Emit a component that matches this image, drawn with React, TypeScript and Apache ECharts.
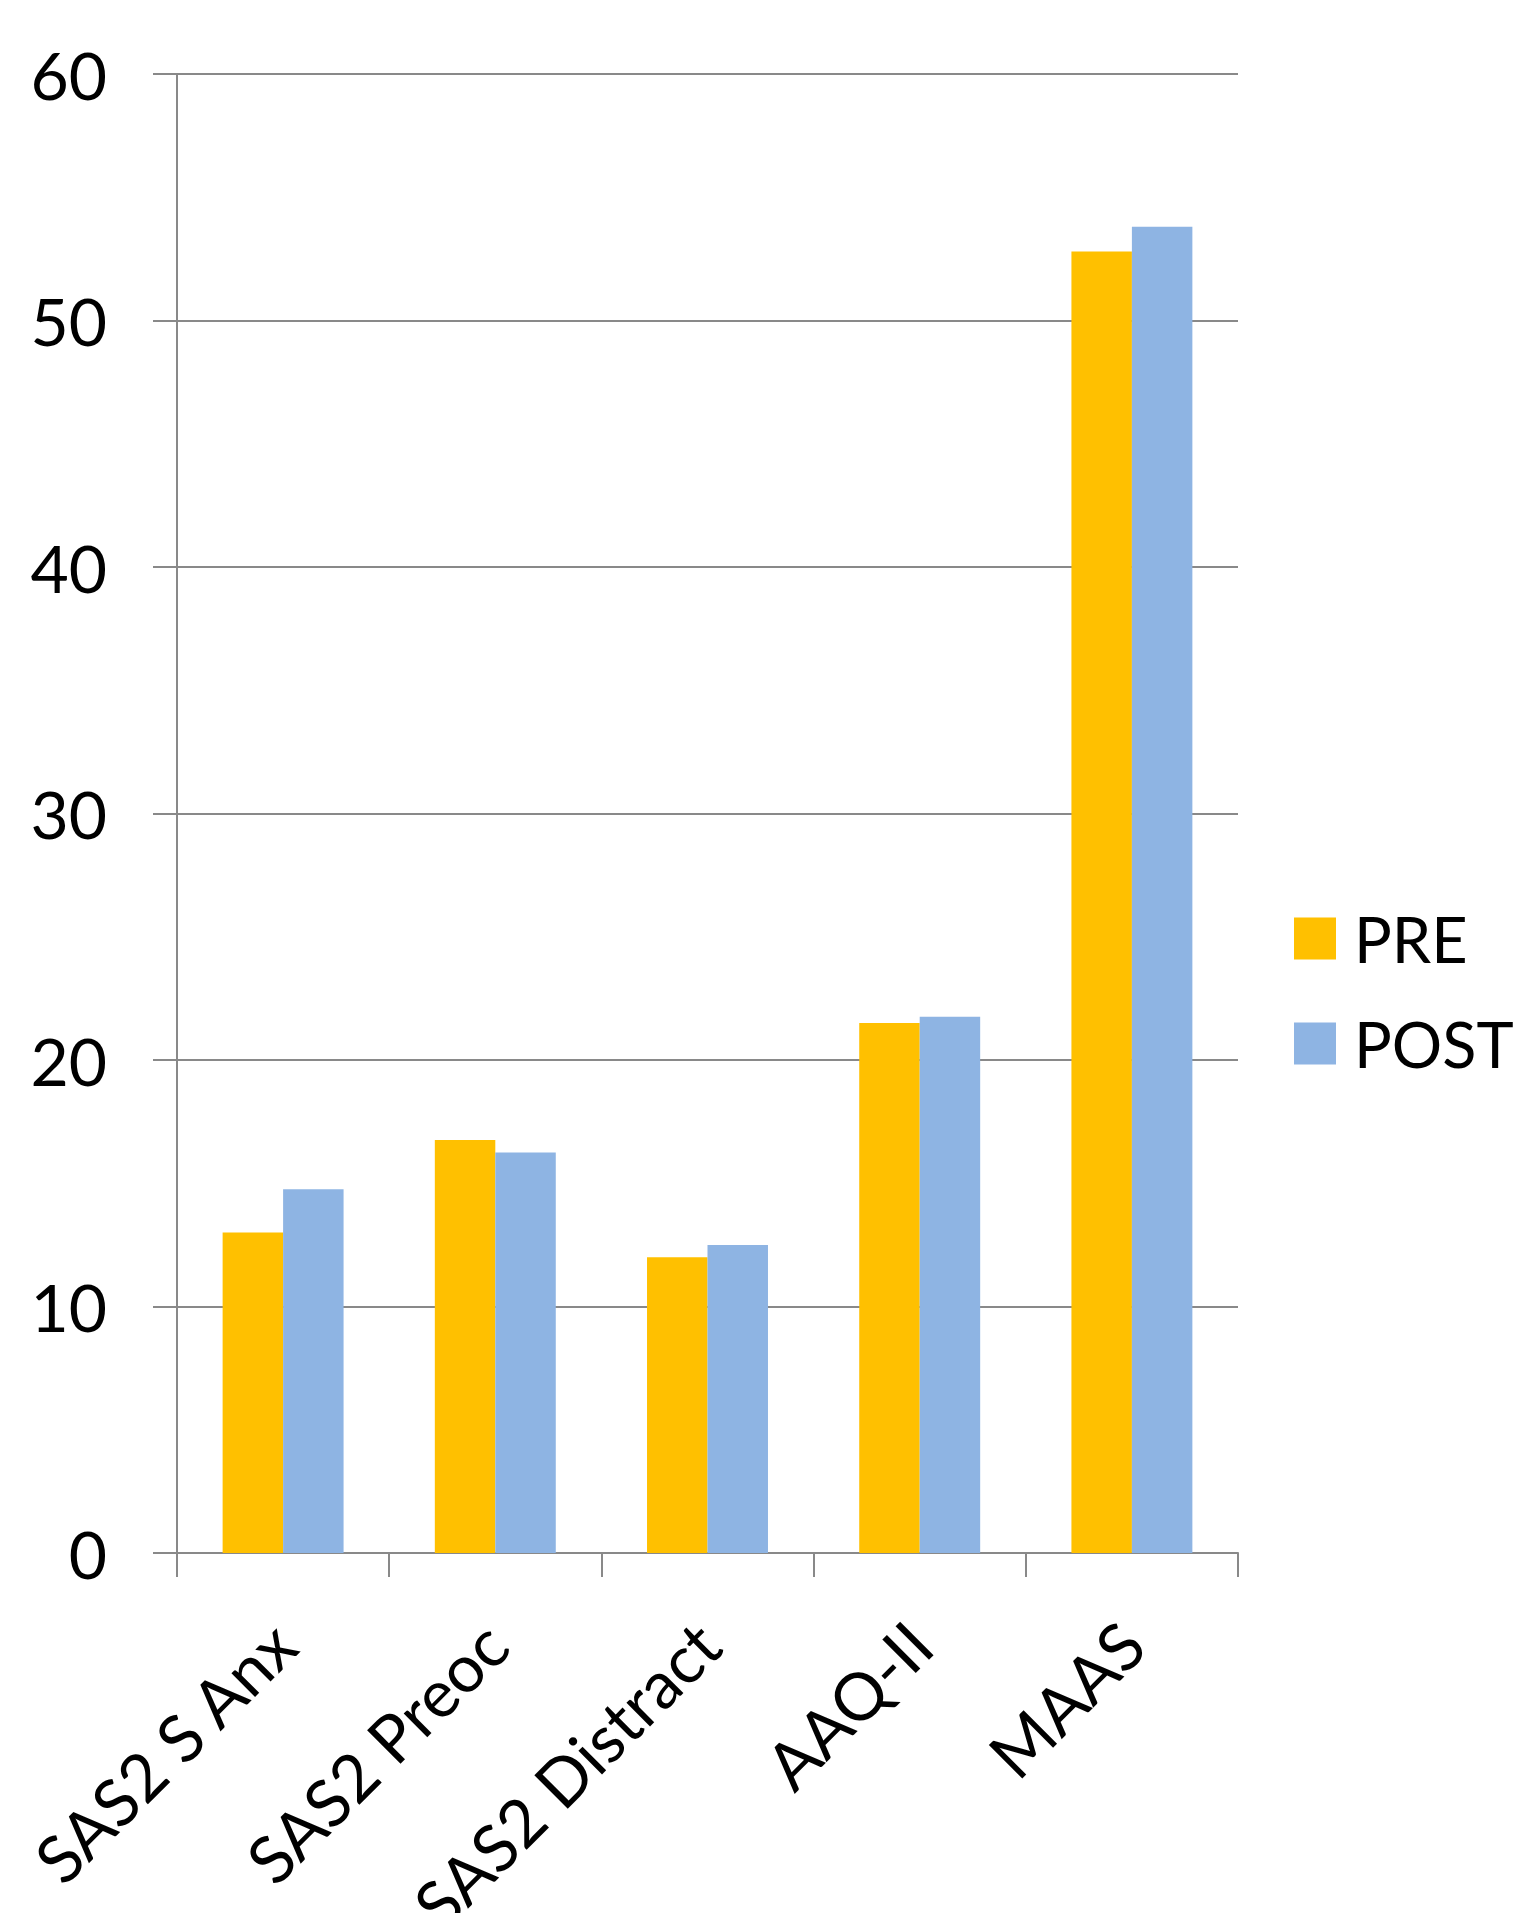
import React, { useEffect, useRef } from "react";
import * as echarts from "echarts";

const categories = ["SAS2 S Anx", "SAS2 Preoc", "SAS2 Distract", "AAQ-II", "MAAS"];
const preValues = [13.0, 16.75, 12.0, 21.5, 52.8];
const postValues = [14.76, 16.25, 12.5, 21.75, 53.8];
const seriesNames = ["PRE", "POST"];
const yTicks = { min: 0, max: 60, interval: 10 };

const FONT = "Lato";
const AXIS_COLOR = "#898989";

export default function App() {
  const ref = useRef<HTMLDivElement>(null);
  useEffect(() => {
    if (!ref.current) return;
    const chart = echarts.init(ref.current, null, { renderer: "svg" });
    chart.setOption({
      animation: false,
      backgroundColor: "#ffffff",
      textStyle: { fontFamily: FONT },
      grid: {
        left: 177,
        top: 74,
        right: 275,
        bottom: 360,
        containLabel: false,
        outerBoundsMode: "none",
      },
      legend: {
        orient: "vertical",
        left: 1289,
        top: 902,
        icon: "rect",
        itemWidth: 42,
        itemHeight: 42,
        itemGap: 42,
        textStyle: { fontFamily: FONT, fontSize: 63, color: "#000", padding: [0, 0, 0, 13] },
        data: seriesNames,
      },
      xAxis: {
        type: "category",
        data: categories,
        boundaryGap: true,
        axisLine: { show: true, lineStyle: { color: AXIS_COLOR, width: 2 } },
        axisTick: { show: true, length: 24, inside: false, lineStyle: { color: AXIS_COLOR, width: 2 } },
        axisLabel: {
          rotate: 45,
          margin: 80,
          fontFamily: FONT,
          fontSize: 66,
          color: "#000",
          interval: 0,
        },
        splitLine: { show: false },
      },
      yAxis: {
        type: "value",
        min: yTicks.min,
        max: yTicks.max,
        interval: yTicks.interval,
        axisLine: { show: true, lineStyle: { color: AXIS_COLOR, width: 2 } },
        axisTick: { show: true, length: 24, inside: false, lineStyle: { color: AXIS_COLOR, width: 2 } },
        axisLabel: { margin: 70, fontFamily: FONT, fontSize: 66, color: "#000" },
        splitLine: { show: true, lineStyle: { color: AXIS_COLOR, width: 2 } },
      },
      series: [
        {
          name: seriesNames[0],
          type: "bar",
          data: preValues,
          barGap: "0%",
          barCategoryGap: "43%",
          itemStyle: { color: "#FFC000" },
        },
        {
          name: seriesNames[1],
          type: "bar",
          data: postValues,
          barGap: "0%",
          barCategoryGap: "43%",
          itemStyle: { color: "#8EB4E3" },
        },
      ],
    });
    return () => chart.dispose();
  }, []);
  return (
    <div
      ref={ref}
      style={{ position: "absolute", left: 0, top: 0, width: 1513, height: 1913 }}
    />
  );
}
